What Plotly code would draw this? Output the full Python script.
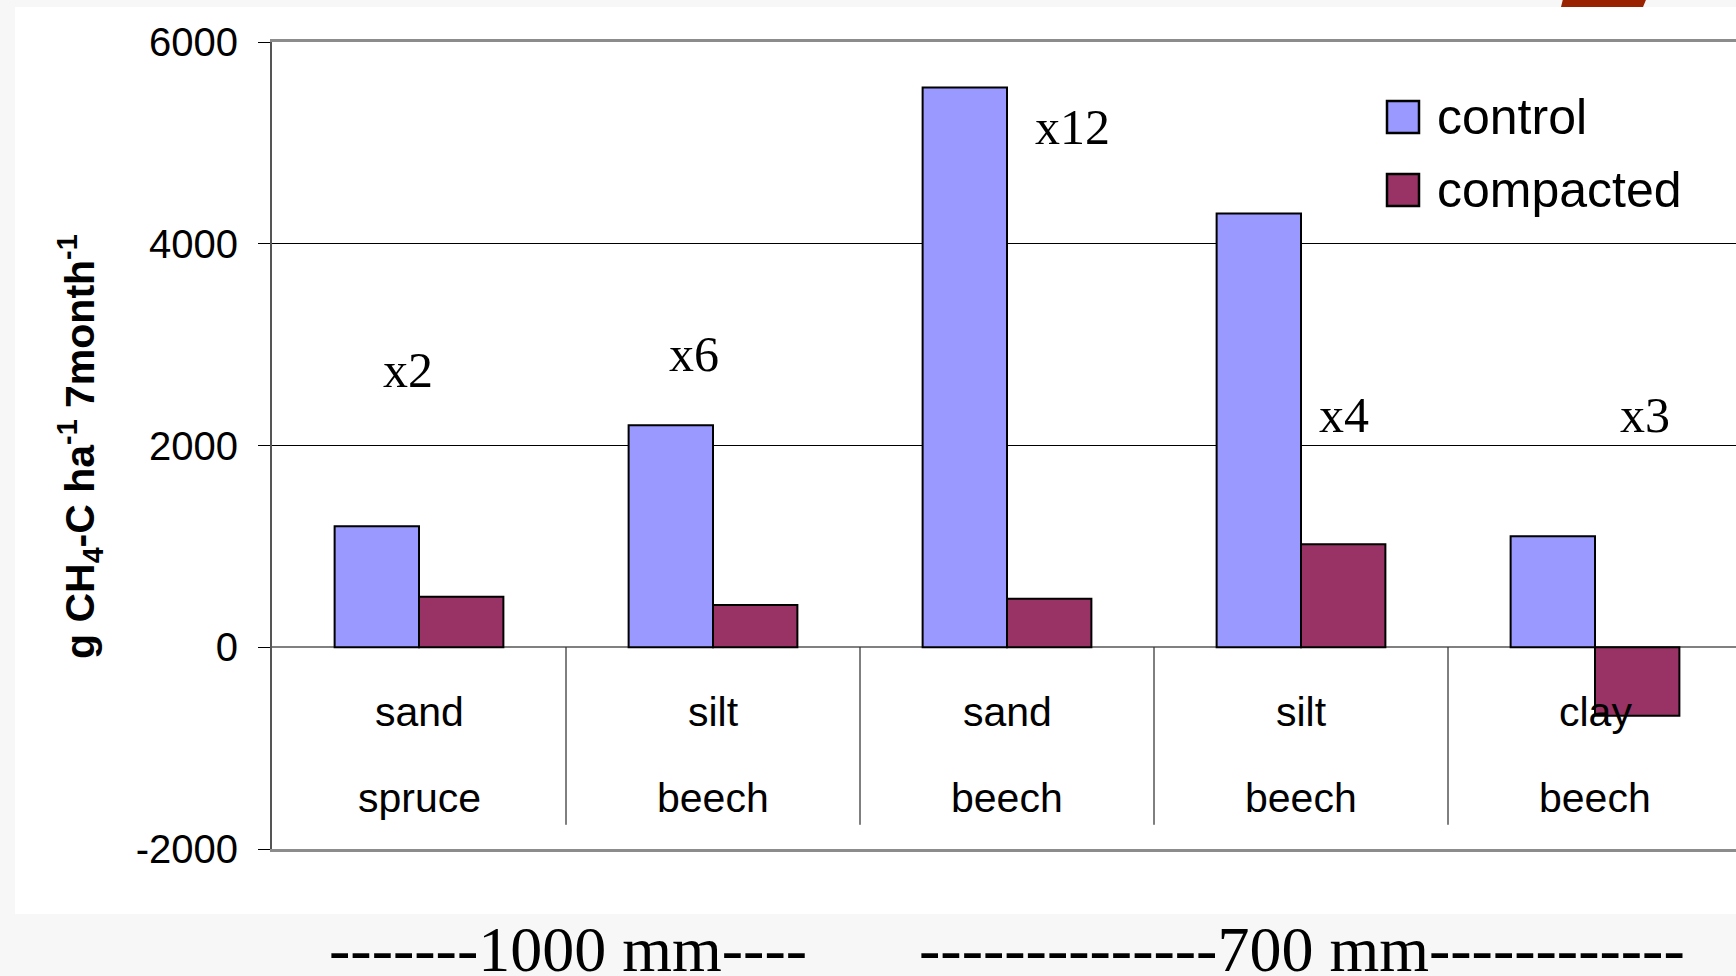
import plotly.graph_objects as go

# --- data -------------------------------------------------------------
soil = ["sand", "silt", "sand", "silt", "clay"]
stand = ["spruce", "beech", "beech", "beech", "beech"]
series_names = ["control", "compacted"]
control = [1200, 2200, 5550, 4300, 1100]
compacted = [500, 420, 480, 1020, -680]
ratio_labels = ["x2", "x6", "x12", "x4", "x3"]
precip_labels = ["-------1000 mm----", "--------------700 mm------------"]
y_ticks = [-2000, 0, 2000, 4000, 6000]

colors = ["#9999FF", "#993366"]
SANS = "Liberation Sans, Arial, sans-serif"
SERIF = "Liberation Serif, Times New Roman, serif"

W, H = 1736, 976
L, R, T, B = 272, 0, 42, 127
PW, PH = W - L - R, H - T - B
CAT_W = 294.0  # pixel width of one category slot


def px_x(px):
    return (px - L) / PW


def px_y(py):
    return (H - B - py) / PH


x = list(range(len(soil)))

fig = go.Figure()
for name, vals, col in zip(series_names, [control, compacted], colors):
    fig.add_trace(go.Bar(
        x=x, y=vals, name=name,
        marker=dict(color=col, line=dict(color="black", width=2)),
        showlegend=False,
    ))

shapes = []
annotations = []

# white chart panel over the grey page
shapes.append(dict(type="rect", xref="paper", yref="paper", layer="below",
                   x0=px_x(15), x1=px_x(W + 10), y0=px_y(914), y1=px_y(7),
                   fillcolor="white", line=dict(width=0)))
# small red decoration at the top edge
shapes.append(dict(type="path", xref="paper", yref="paper", layer="above",
                   path=f"M {px_x(1564)} {px_y(-5)} L {px_x(1648)} {px_y(-5)} "
                        f"L {px_x(1643)} {px_y(7)} L {px_x(1561)} {px_y(7)} Z",
                   fillcolor="#992200", line=dict(width=0)))

# category dividers below the zero line
for i in range(len(soil) - 1):
    shapes.append(dict(type="line", xref="x", yref="y",
                       x0=i + 0.5, x1=i + 0.5, y0=0, y1=-1760,
                       line=dict(color="black", width=1)))

# two-row category labels
for i, (s, t) in enumerate(zip(soil, stand)):
    annotations.append(dict(x=i, y=px_y(712), xref="x", yref="paper",
                            text=s, showarrow=False, xanchor="center", yanchor="middle",
                            font=dict(family=SANS, size=41, color="black")))
    annotations.append(dict(x=i, y=px_y(798), xref="x", yref="paper",
                            text=t, showarrow=False, xanchor="center", yanchor="middle",
                            font=dict(family=SANS, size=41, color="black")))

# ratio labels control/compacted
ratio_pos = [(-0.036, 2750), (0.936, 2905), (2.223, 5155), (3.147, 2300), (4.169, 2300)]
for lab, (rx, ry) in zip(ratio_labels, ratio_pos):
    annotations.append(dict(x=rx, y=ry, xref="x", yref="y", text=lab,
                            showarrow=False, xanchor="center", yanchor="middle",
                            font=dict(family=SERIF, size=50, color="black")))

# precipitation group labels below the panel
for lab, cx in zip(precip_labels, [568, 1302]):
    annotations.append(dict(x=px_x(cx), y=px_y(949), xref="paper", yref="paper",
                            text=lab, showarrow=False, xanchor="center", yanchor="middle",
                            font=dict(family=SERIF, size=64, color="black")))

# y-axis title
annotations.append(dict(x=px_x(80), y=px_y(447), xref="paper", yref="paper",
                        text="<b>g CH<sub>4</sub>-C ha<sup>-1</sup> 7month<sup>-1</sup></b>",
                        textangle=-90, showarrow=False, xanchor="center", yanchor="middle",
                        font=dict(family=SANS, size=41, color="black")))

# legend
for k, (name, col) in enumerate(zip(series_names, colors)):
    top = 101 + k * 73
    shapes.append(dict(type="rect", xref="paper", yref="paper",
                       x0=px_x(1387), x1=px_x(1419), y0=px_y(top + 32), y1=px_y(top),
                       fillcolor=col, line=dict(color="black", width=2.5)))
    annotations.append(dict(x=px_x(1435), y=px_y(top + 16), xref="paper", yref="paper",
                            text=name, showarrow=False, xanchor="left", yanchor="middle",
                            font=dict(family=SANS, size=50, color="black")))

fig.update_layout(
    width=W, height=H,
    margin=dict(l=L, r=R, t=T, b=B, autoexpand=False),
    paper_bgcolor="#f7f7f7",
    plot_bgcolor="white",
    barmode="group", bargap=0.426, bargroupgap=0,
    showlegend=False,
    shapes=shapes,
    annotations=annotations,
    xaxis=dict(range=[-0.5, -0.5 + PW / CAT_W], showticklabels=False, ticks="",
               showgrid=False, zeroline=False, showline=True, mirror=True,
               linecolor="#8c8c8c", linewidth=3),
    yaxis=dict(range=[-2000, 6000], tickvals=y_ticks, ticktext=[str(v) for v in y_ticks],
               showgrid=True, gridcolor="black", gridwidth=1,
               zeroline=True, zerolinecolor="#808080", zerolinewidth=2,
               showline=True, linecolor="#555555", linewidth=2,
               ticks="outside", ticklen=12, tickcolor="black", tickwidth=1,
               ticklabelstandoff=12,
               tickfont=dict(family=SANS, size=40, color="black")),
)

fig.write_html("out.html")
